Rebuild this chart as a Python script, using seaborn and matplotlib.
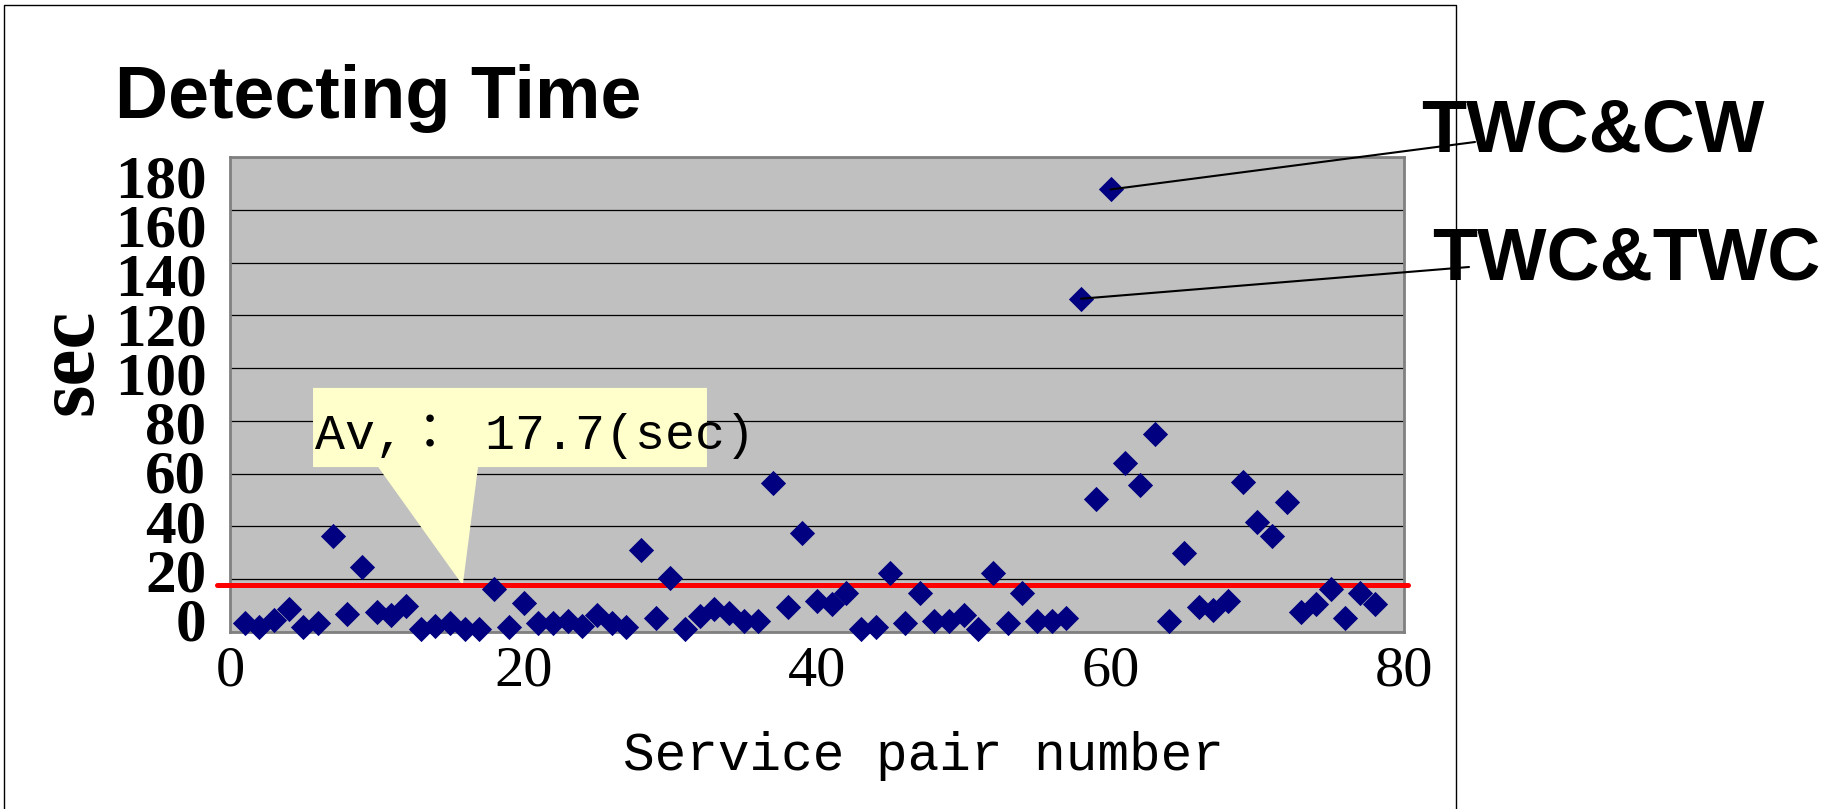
import matplotlib
matplotlib.use("Agg")
import matplotlib.pyplot as plt
from matplotlib.patches import Polygon
from matplotlib.lines import Line2D
import numpy as np
import pandas as pd
import seaborn as sns

# ---------------- data ----------------
pair_numbers = list(range(1, 79))
detect_sec = [3.3, 1.8, 4.5, 8.6, 2.0, 3.3, 36.4, 6.7, 24.8, 7.5,
              6.4, 9.9, 1.0, 2.3, 3.3, 1.0, 1.0, 16.2, 2.0, 10.9,
              3.3, 3.5, 4.2, 2.3, 6.4, 3.3, 2.0, 31.1, 5.2, 20.6,
              1.0, 6.1, 8.6, 7.1, 4.3, 4.3, 56.6, 9.6, 37.6, 11.9,
              10.6, 14.9, 1.0, 2.0, 22.5, 3.3, 14.9, 4.3, 4.3, 6.4,
              1.0, 22.5, 3.3, 14.9, 4.3, 4.3, 5.2, 126.3, 50.3, 167.7,
              64.2, 55.7, 74.9, 4.3, 30.1, 9.6, 8.3, 11.9, 56.7, 41.8,
              36.4, 49.1, 7.5, 10.6, 16.2, 5.2, 14.9, 10.6]
x_ticks = [0, 20, 40, 60, 80]
y_ticks = [0, 20, 40, 60, 80, 100, 120, 140, 160, 180]
avg_sec = 17.7
outlier_labels = ["TWC&CW", "TWC&TWC"]
outlier_pairs = [60, 58]

title_text = "Detecting Time"
x_label = "Service pair number"
y_label = "sec"

df = pd.DataFrame({"pair": pair_numbers, "sec": detect_sec})

# ---------------- figure ----------------
sns.set_style("white")
plt.rcParams.update({"text.color": "black", "axes.labelcolor": "black",
                     "xtick.color": "black", "ytick.color": "black"})
W, H = 1835, 809
fig = plt.figure(figsize=(W / 100, H / 100), dpi=100)
fig.patch.set_facecolor("white")
ax = fig.add_axes([230 / W, 1 - 632 / H, 1174 / W, 475 / H])
ax.set_facecolor("#C0C0C0")

sns.scatterplot(data=df, x="pair", y="sec", marker="D", s=165, color="#000080",
                linewidth=0, ax=ax, zorder=4, legend=False, clip_on=False)

ax.set_xlim(0, 80)
ax.set_ylim(0, 180)

# gridlines on the major y ticks
ax.set_yticks(y_ticks)
ax.set_axisbelow(True)
ax.yaxis.grid(True, which="major", color="black", lw=0.9)
ax.xaxis.grid(False)
ax.tick_params(axis="y", which="major", left=False, labelleft=False)

# y tick labels (evenly stacked as in the original)
label_pos = [4.85 + 0.9334 * v for v in y_ticks]
ax.set_yticks(label_pos, labels=[str(v) for v in y_ticks], minor=True,
              fontfamily="Liberation Serif", fontweight="bold", fontsize=44,
              color="black")
ax.tick_params(axis="y", which="minor", length=0, pad=17)

# x ticks
ax.set_xticks(x_ticks, labels=[str(v) for v in x_ticks],
              fontfamily="Liberation Serif", fontsize=42, color="black")
ax.tick_params(axis="x", direction="in", length=9.5, width=1, color="black", pad=10)

for s in ax.spines.values():
    s.set_color("#808080")
    s.set_linewidth(2)

# axis labels
ax.set_xlabel(x_label, fontfamily="Liberation Mono", fontsize=38, color="black")
ax.xaxis.set_label_coords((923 - 230) / 1174, (632 - 770) / 475)
ax.xaxis.label.set_va("baseline")

ax.set_ylabel(y_label, fontfamily="Liberation Serif", fontweight="bold", fontsize=60,
              color="black")
ax.yaxis.set_label_coords((72 - 230) / 1174, (632 - 362) / 475)
ax.yaxis.label.set_va("center")

# average line
ax.axhline(avg_sec, xmin=-0.011, xmax=1.003, color="#FF0000", lw=3.6,
           clip_on=False, zorder=3)

# callout
callout = Polygon([(5.66, 62.5), (10.1, 62.5), (15.86, avg_sec), (16.9, 62.5),
                   (32.5, 62.5), (32.5, 92.5), (5.66, 92.5)], closed=True,
                  facecolor="#FFFFCC", edgecolor="none", zorder=2)
ax.add_patch(callout)
ax.text(5.8, 69.3, f"Av,： {avg_sec}(sec)", family=["Liberation Mono", "Noto Sans CJK JP"],
        fontsize=36, ha="left", va="baseline", color="black", zorder=5)

# outlier labels with leader lines
line_ends_px = [(1475, 142), (1469, 267)]
text_pos_px = [(1421, 151), (1432, 279)]
for lab, pair, (lx, ly), (tx, ty) in zip(outlier_labels, outlier_pairs, line_ends_px, text_pos_px):
    yv = detect_sec[pair_numbers.index(pair)]
    ax.annotate("", xy=(pair, yv), xycoords="data", xytext=(lx, H - ly),
                textcoords="figure pixels",
                arrowprops=dict(arrowstyle="-", color="black", lw=1.5, shrinkA=0, shrinkB=0),
                annotation_clip=False, zorder=5)
    fig.text(tx / W, 1 - ty / H, lab, family="Liberation Sans", weight="bold",
             fontsize=53, ha="left", va="baseline", color="black")

# title
fig.text(115 / W, 1 - 118 / H, title_text, family="Liberation Sans", weight="bold",
         fontsize=53, ha="left", va="baseline", color="black")

# outer frame (left, top, right)
fig.add_artist(Line2D([4 / W, 4 / W, 1456 / W, 1456 / W], [0, 1 - 5 / H, 1 - 5 / H, 0],
                      transform=fig.transFigure, color="black", lw=1))

fig.savefig("out.png", dpi=100, facecolor="white")
